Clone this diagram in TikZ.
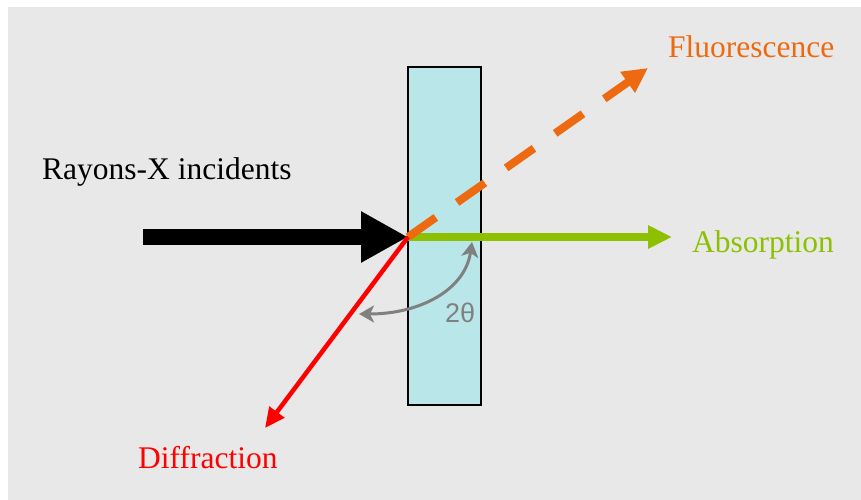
\documentclass[tikz,border=0pt]{standalone}
\usepackage{fontspec}
\setmainfont{Liberation Serif}
\newfontfamily\labelsans{Liberation Sans}
\usetikzlibrary{arrows.meta}
\definecolor{bgc}{HTML}{E8E8E8}
\definecolor{slabc}{HTML}{B9E7E9}
\definecolor{fluoc}{HTML}{EE6A10}
\definecolor{absc}{HTML}{8DC000}
\definecolor{diffc}{HTML}{FF0000}
\definecolor{anglec}{HTML}{808080}
\tikzset{
  lbl/.style={anchor=base west, inner sep=0pt, font=\fontsize{31.5}{36}\selectfont},
  beam/.style={line cap=butt},
  angarrow/.style={anglec, line width=3pt, {Stealth[length=15pt,width=17pt,inset=4pt]}-{Stealth[length=15pt,width=17pt,inset=4pt]}},
}
\begin{document}
\begin{tikzpicture}[x=1pt,y=-1pt]
\useasboundingbox (0,0) rectangle (861,500);
\fill[white] (0,0) rectangle (861,500);
\fill[bgc] (8,7) rectangle (861,500);
% slab
\node[draw=black, line width=1.5pt, fill=slabc, minimum width=73pt, minimum height=338pt, inner sep=0pt] (slab) at (444.5,236) {};
% key points
\coordinate (O) at (408,237);
\coordinate (inc) at (143,237);
\coordinate (absend) at (672,237);
\coordinate (fluoend) at (648,68);
\coordinate (diffend) at (265,428);
\coordinate (a1) at (472,242);
\coordinate (a2) at (359,314);
% labels
\node[lbl, text=black] (tinc) at (42,179) {Rayons-X incidents};
\node[lbl, text=fluoc] (tfluo) at (668,58) {Fluorescence};
\node[lbl, text=absc] (tabs) at (692,252) {Absorption};
\node[lbl, text=diffc] (tdiff) at (138,468) {Diffraction};
\node[anchor=base west, inner sep=0pt, text=anglec, font=\labelsans\fontsize{27}{30}\selectfont] (ttheta) at (445,322) {2θ};
% beams
\draw[beam, line width=16pt, -{Triangle[length=47pt,width=48pt]}] (inc) -- (O);
\draw[beam, absc, line width=8pt, -{Triangle[length=24pt,width=22pt]}] (O) -- (absend);
\draw[beam, fluoc, line width=8pt, dash pattern=on 34pt off 26pt, -{Triangle[length=25pt,width=24pt]}] (O) -- (fluoend);
\draw[beam, diffc, line width=4.5pt, -{Triangle[length=20pt,width=18pt]}] (O) -- (diffend);
% angle
\draw[angarrow] (a1) .. controls (465,290) and (420,314) .. (a2);
\end{tikzpicture}
\end{document}
